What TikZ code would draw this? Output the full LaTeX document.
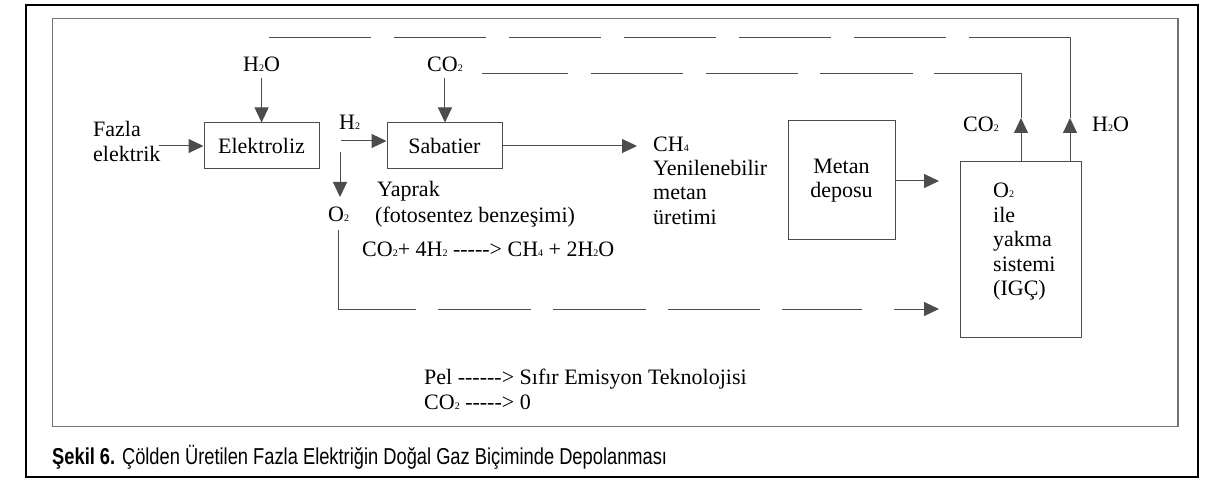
\documentclass[tikz,border=0pt]{standalone}
\usepackage{fontspec}
\usepackage{graphicx}
\setmainfont{Liberation Serif}[Ligatures=TeXOff]
\newfontfamily\capfont{Liberation Sans}
\usetikzlibrary{arrows.meta}
\newcommand\sbs[1]{{\fontsize{10}{10}\selectfont #1}}
\newsavebox\capbox
\definecolor{linegray}{gray}{0.3}
\definecolor{framegray}{gray}{0.45}
\begin{document}
\begin{tikzpicture}[x=1pt,y=-1pt,
  txt/.style={inner sep=0pt, anchor=base west, font=\fontsize{22}{24.5}\selectfont},
  boxnode/.style={draw=linegray, line width=1pt, inner sep=0pt, align=center,
    font=\fontsize{22}{24}\selectfont},
  conn/.style={draw=linegray, line width=1pt},
  arr/.style={conn, -{Triangle[length=15pt,width=14pt]}}
]
\useasboundingbox (0,0) rectangle (1217,478);
% frames
\draw[line width=2pt] (26,5) rectangle (1198,477);
\draw[draw=framegray, line width=1.2pt] (52.3,18.3) rectangle (1178,426.7);

% boxes
\node[boxnode, minimum width=115pt, minimum height=46pt] (elek) at (261.5,146) {Elektroliz};
\node[boxnode, minimum width=115pt, minimum height=46pt] (sab) at (444.5,146) {Sabatier};
\node[boxnode, minimum width=107pt, minimum height=119pt] (metan) at (841.5,180.5) {Metan\\deposu};
\node[boxnode, minimum width=120.5pt, minimum height=176pt] (igc) at (1020.75,249.6) {};

% labels
\node[txt] (h2otop) at (243,72) {H\sbs{2}O};
\node[txt] (co2top) at (427,72) {CO\sbs{2}};
\node[txt] (fazla1) at (93,137) {Fazla};
\node[txt] (fazla2) at (93,162) {elektrik};
\node[txt] (h2lab) at (339,130) {H\sbs{2}};
\node[txt] (o2lab) at (328,222) {O\sbs{2}};
\node[txt] (yaprak1) at (377,197) {Yaprak};
\node[txt] (yaprak2) at (375,222.5) {(fotosentez benzeşimi)};
\node[txt] (eq) at (362,256) {CO\sbs{2}+ 4H\sbs{2} -----> CH\sbs{4} + 2H\sbs{2}O};
\node[txt] (ch4) at (653,152) {CH\sbs{4}};
\node[txt] (yen1) at (653,176) {Yenilenebilir};
\node[txt] (yen2) at (653,200) {metan};
\node[txt] (yen3) at (653,224.5) {üretimi};
\node[txt] (co2right) at (963,132) {CO\sbs{2}};
\node[txt] (h2oright) at (1092,132) {H\sbs{2}O};
\node[txt] (igc1) at (993,198) {O\sbs{2}};
\node[txt] (igc2) at (993,223) {ile};
\node[txt] (igc3) at (993,247) {yakma};
\node[txt] (igc4) at (993,271) {sistemi};
\node[txt] (igc5) at (993,295) {(IGÇ)};
\node[txt] (pel) at (424,384) {Pel ------> Sıfır Emisyon Teknolojisi};
\node[txt] (co2zero) at (424,409) {CO\sbs{2} -----> 0};
\node[inner sep=0pt, anchor=base west] (caption) at (52,464)
  {\sbox\capbox{\capfont\fontsize{23}{23}\selectfont\textbf{Şekil 6.} Çölden Üretilen Fazla Elektriğin Doğal Gaz Biçiminde Depolanması}%
   \scalebox{\fpeval{615pt/\wd\capbox}}[1]{\usebox\capbox}};

% coordinates
\coordinate (fazlaS) at (159,146);
\coordinate (h2S) at (341,141);
\coordinate (o2S) at (340,152);
\coordinate (o2E) at (340,197);
\coordinate (ch4E) at (637,146);
\coordinate (metE) at (939,181);
\coordinate (o2dS) at (338,230);
\coordinate (o2dC) at (338,309);
\coordinate (o2dE) at (939,309);
\coordinate (co2up) at (1021,118);
\coordinate (h2oup) at (1070,118);
\coordinate (co2retS) at (482,74);
\coordinate (co2retC) at (1021,74);
\coordinate (h2oretS) at (269,38);
\coordinate (h2oretC) at (1070,38);

% connectors
\draw[arr] (h2otop.south) ++(0,6) -- (h2otop.south |- elek.north);
\draw[arr] (co2top.south) ++(0,6) -- (co2top.south |- sab.north);
\draw[arr] (fazlaS) -- (elek.west);
\draw[arr] (h2S) -- (h2S -| sab.west);
\draw[arr] (o2S) -- (o2E);
\draw[arr] (sab.east) -- (ch4E);
\draw[arr] (metan.east |- metE) -- (metE);
\draw[arr] (igc.north -| co2up) -- (co2up);
\draw[arr] (igc.north -| h2oup) -- (h2oup);

\draw[arr, dash pattern=on 157pt off 22pt on 93pt off 22pt on 93pt off 22pt on 92pt off 22pt on 80pt off 32pt on 200pt off 1pt]
  (o2dS) -- (o2dC) -- (o2dE);
\draw[conn, dash pattern=on 86pt off 23pt on 92pt off 23pt on 92pt off 22pt on 93pt off 21pt on 300pt off 1pt]
  (co2retS) -- (co2retC) -- (co2up);
\draw[conn, dash pattern=on 102pt off 23pt on 92pt off 23pt on 92pt off 23pt on 92pt off 23pt on 92pt off 23pt on 92pt off 23pt on 300pt off 1pt]
  (h2oretS) -- (h2oretC) -- (h2oup);
\end{tikzpicture}
\end{document}
